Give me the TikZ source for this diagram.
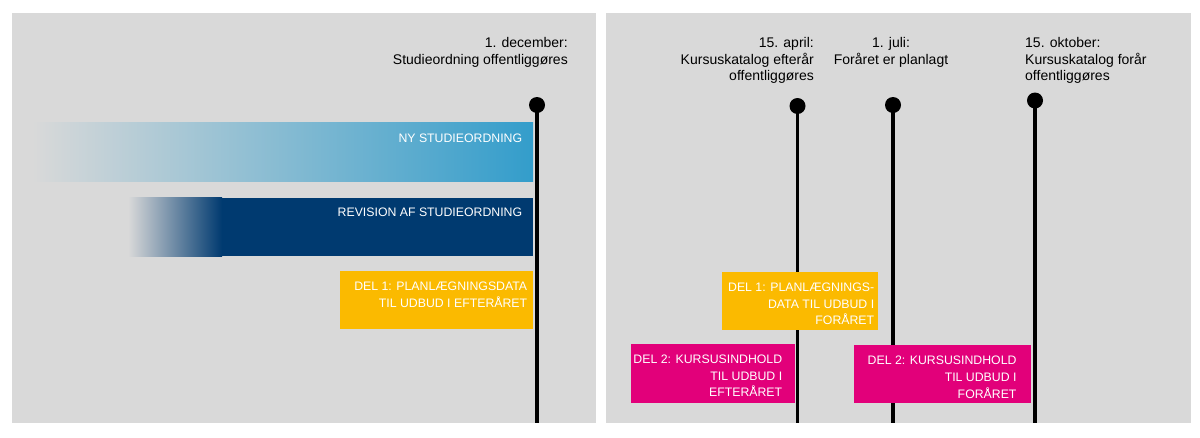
\documentclass[tikz,border=0pt]{standalone}
\usepackage{fontspec}
\setmainfont{Liberation Sans}
\definecolor{panelgray}{HTML}{D9D9D9}
\definecolor{nyblue}{HTML}{339DCB}
\definecolor{navy}{HTML}{003A70}
\definecolor{dyellow}{HTML}{FBBA00}
\definecolor{dpink}{HTML}{E2007A}
\begin{document}
\begin{tikzpicture}[x=1pt,y=-1pt,
  panel/.style={fill=panelgray,draw=none},
  datelbl/.style={inner sep=0pt,font=\fontsize{14}{16.7}\selectfont,text=black},
  boxtxt/.style={inner sep=0pt,font=\fontsize{12.3}{16.7}\selectfont,text=white,align=right,anchor=north east},
  bar/.style={rectangle,inner sep=0pt,anchor=north west,draw=none},
  dot/.style={circle,fill=black,inner sep=0pt,minimum size=16pt},
  tline/.style={line width=3.2pt,black}
]
\useasboundingbox (0,0) rectangle (1200,437);
\fill[white] (0,0) rectangle (1200,437);
\fill[panel] (12,13) rectangle (596,423);
\fill[panel] (606,13) rectangle (1191,423);

% timeline markers
\node[dot] (d1) at (537,105) {};
\node[dot] (d2) at (797.5,106) {};
\node[dot] (d3) at (893,105) {};
\node[dot] (d4) at (1035,100.5) {};
\coordinate (b1) at (537,423);
\coordinate (b2) at (797.5,423);
\coordinate (b3) at (893,423);
\coordinate (b4) at (1035,423);
\draw[tline] (d1.center) -- (b1);
\draw[tline] (d2.center) -- (b2);
\draw[tline] (d3.center) -- (b3);
\draw[tline] (d4.center) -- (b4);

% date labels
\node[datelbl,align=right,anchor=north east] (l1) at (568,37) {1. december:\\Studieordning offentliggøres};
\node[datelbl,align=right,anchor=north east] (l2) at (814,37) {15. april:\\Kursuskatalog efterår\\offentliggøres};
\node[datelbl,align=center,anchor=north] (l3) at (891,37) {1. juli:\\Foråret er planlagt};
\node[datelbl,align=left,anchor=north west] (l4) at (1025,37) {15. oktober:\\Kursuskatalog forår\\offentliggøres};

% left panel bars
\node[bar,minimum width=501pt,minimum height=58.5pt,left color=panelgray,right color=nyblue] (ny) at (32,122.3) {};
\node[boxtxt] (nyt) at ([xshift=-11pt,yshift=-11.6pt]ny.north east) {NY STUDIEORDNING};

\node[bar,minimum width=311pt,minimum height=58.4pt,fill=navy] (rev) at (222,197.3) {};
\shade[left color=panelgray,right color=navy] (128,197.3) rectangle (rev.south west);
\node[boxtxt] (revt) at ([xshift=-11pt,yshift=-10.7pt]rev.north east) {REVISION AF STUDIEORDNING};

\node[bar,minimum width=193pt,minimum height=58pt,fill=dyellow] (y1) at (340,271) {};
\node[boxtxt] (y1t) at ([xshift=-6pt,yshift=-11pt]y1.north east) {DEL 1: PLANLÆGNINGSDATA\\TIL UDBUD I EFTERÅRET};

% right panel boxes
\node[bar,minimum width=156pt,minimum height=58.3pt,fill=dyellow] (y2) at (722,271.7) {};
\node[boxtxt] (y2t) at ([xshift=-4pt,yshift=-11pt]y2.north east) {DEL 1: PLANLÆGNINGS-\\DATA TIL UDBUD I\\FORÅRET};

\node[bar,minimum width=164pt,minimum height=59.4pt,fill=dpink] (p1) at (631,343.3) {};
\node[boxtxt] (p1t) at ([xshift=-13pt,yshift=-11.5pt]p1.north east) {DEL 2: KURSUSINDHOLD\\TIL UDBUD I\\EFTERÅRET};

\node[bar,minimum width=177pt,minimum height=57.7pt,fill=dpink] (p2) at (853.3,345) {};
\node[boxtxt] (p2t) at ([xshift=-14pt,yshift=-11pt]p2.north east) {DEL 2: KURSUSINDHOLD\\TIL UDBUD I\\FORÅRET};
\end{tikzpicture}
\end{document}
